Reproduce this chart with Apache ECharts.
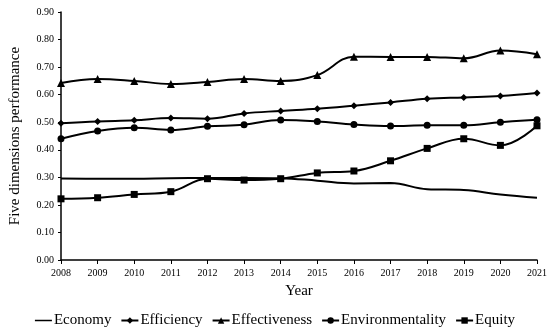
<!DOCTYPE html>
<html><head><meta charset="utf-8">
<script src="https://cdn.jsdelivr.net/npm/echarts@6/dist/echarts.min.js"></script>
<style>html,body{margin:0;padding:0;background:#fff}#c{width:550px;height:332px}</style>
</head><body><div id="c"></div>
<script>
const years = ['2008','2009','2010','2011','2012','2013','2014','2015','2016','2017','2018','2019','2020','2021'];
const economy = [0.296,0.295,0.295,0.297,0.298,0.298,0.297,0.288,0.278,0.279,0.257,0.254,0.238,0.226];
const efficiency = [0.496,0.503,0.507,0.515,0.513,0.532,0.541,0.549,0.560,0.572,0.585,0.590,0.595,0.606];
const effectiveness = [0.642,0.657,0.650,0.639,0.646,0.657,0.650,0.671,0.738,0.737,0.737,0.732,0.760,0.747];
const environmentality = [0.440,0.468,0.480,0.472,0.485,0.491,0.508,0.503,0.492,0.486,0.489,0.489,0.500,0.509];
const equity = [0.222,0.226,0.238,0.248,0.295,0.290,0.295,0.316,0.323,0.360,0.405,0.440,0.416,0.487];
const names = ['Economy','Efficiency','Effectiveness','Environmentality','Equity'];

const F = '"Liberation Serif", "Times New Roman", serif';
const chart = echarts.init(document.getElementById('c'));
function mk(name, data, symbol, size) {
  return {
    name, type: 'line', data, smooth: 0.4, symbol, symbolSize: size,
    showSymbol: symbol !== 'none',
    lineStyle: {color: '#000', width: 2},
    itemStyle: {color: '#000'},
    z: 2
  };
}
const lineIcon = 'path://M0,0L0.01,0L0.01,0.01Z M0,3.2L18,3.2L18,4.8L0,4.8Z M17.99,8L18,8L18,7.99Z';
chart.setOption({
  animation: false,
  grid: {left: 54, right: 13, top: 12, bottom: 72},
  xAxis: {
    type: 'category', data: years, boundaryGap: false,
    name: 'Year', nameLocation: 'middle', nameGap: 24,
    nameTextStyle: {fontFamily: F, fontSize: 15, color: '#000'},
    axisLine: {lineStyle: {color: '#000', width: 1.5}},
    axisTick: {show: true, length: 4, lineStyle: {color: '#000'}},
    axisLabel: {fontFamily: F, fontSize: 10, color: '#000', margin: 8}
  },
  yAxis: {
    type: 'value', min: 0, max: 0.9, interval: 0.1,
    name: 'Five dimensions performance', nameLocation: 'middle', nameGap: 38,
    nameTextStyle: {fontFamily: F, fontSize: 15, color: '#000'},
    axisLine: {show: true, lineStyle: {color: '#000', width: 1.5}},
    axisTick: {show: true, length: 3, lineStyle: {color: '#000'}},
    splitLine: {show: false},
    axisLabel: {fontFamily: F, fontSize: 10, color: '#000', margin: 7,
      formatter: v => v.toFixed(2)}
  },
  legend: {
    bottom: 4, left: 'center', itemWidth: 17, itemHeight: 8, itemGap: 9, padding: 0,
    textStyle: {fontFamily: F, fontSize: 15, color: '#000', padding: [0,0,0,-3]},
    data: [{name: names[0], icon: lineIcon}, names[1], names[2], names[3], names[4]]
  },
  series: [
    mk(names[0], economy, 'none', 0),
    mk(names[1], efficiency, 'diamond', 7),
    mk(names[2], effectiveness, 'triangle', 8),
    mk(names[3], environmentality, 'circle', 7),
    mk(names[4], equity, 'rect', 7)
  ]
});
</script></body></html>
